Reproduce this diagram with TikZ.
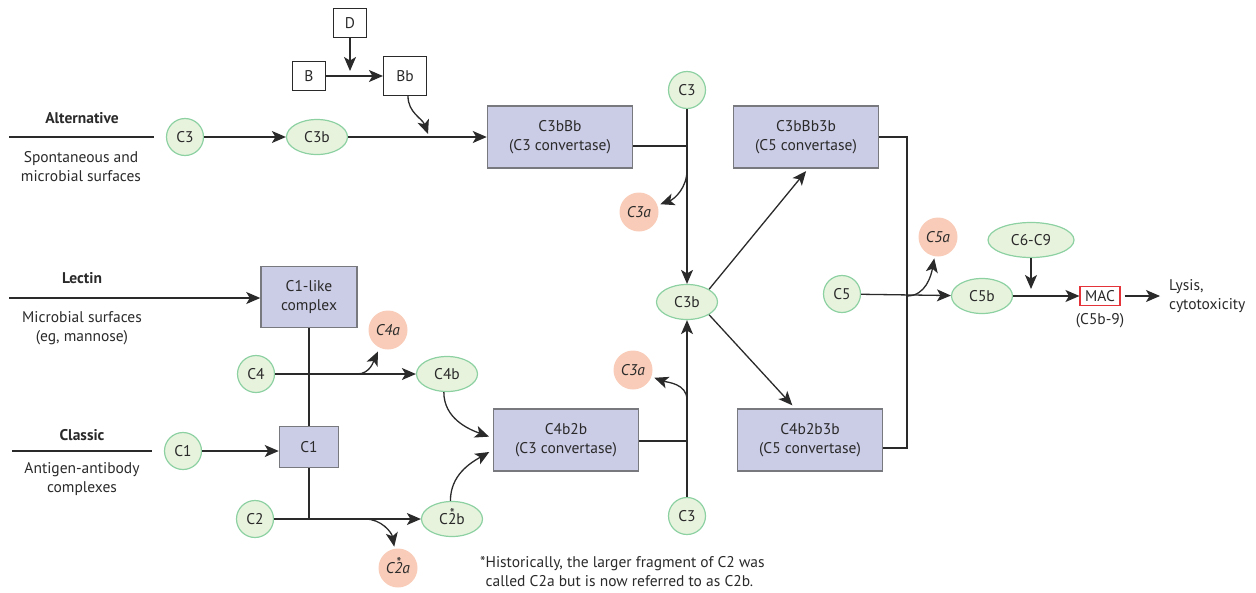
\documentclass[tikz,border=0pt]{standalone}
\usepackage{fontspec}
\setmainfont{PT Sans}
\usetikzlibrary{arrows.meta, positioning, shapes.geometric}

\definecolor{fragfill}{HTML}{E8F3DE}
\definecolor{fragdraw}{HTML}{8DD1A2}
\definecolor{cleavefill}{HTML}{F8CCB8}
\definecolor{cplxfill}{HTML}{CBCCE6}
\definecolor{cplxdraw}{HTML}{78787F}
\definecolor{ink}{HTML}{2A2A2A}
\definecolor{macred}{HTML}{E5333A}

\newcommand{\starred}[1]{\ooalign{#1\cr\hidewidth\raisebox{5.5pt}{\fontsize{14}{14}\selectfont*}\hidewidth\cr}}

\tikzset{
  comp/.style={circle, draw=fragdraw, fill=fragfill, line width=1.2pt, minimum size=37pt, inner sep=0pt},
  frag/.style={ellipse, draw=fragdraw, fill=fragfill, line width=1.2pt, minimum width=61pt, minimum height=35pt, inner sep=0pt},
  cleaved/.style={circle, fill=cleavefill, minimum size=39pt, inner sep=0pt, font=\fontsize{15.5}{19}\selectfont\itshape},
  cplx/.style={rectangle, draw=cplxdraw, fill=cplxfill, line width=1.5pt, align=center, inner sep=0pt},
  convert/.style={cplx, minimum width=145pt, minimum height=62pt},
  factor/.style={rectangle, draw=ink, fill=white, line width=1.1pt, inner sep=0pt},
  route/.style={font=\fontsize{15.5}{19}\selectfont\bfseries},
  note/.style={align=center, inner sep=0pt},
  link/.style={draw=ink, line width=1.3pt},
  arr/.style={link, -{Stealth[length=14pt,width=12pt,inset=3.5pt]}},
}

\begin{document}
\begin{tikzpicture}[x=1pt, y=-1pt, every node/.style={font=\fontsize{15.5}{19}\selectfont, text=ink}]
\useasboundingbox (0,0) rectangle (1256,592);

\node[route] (altname) at (82,118) {Alternative};
\node[note] (altsrc) at (81,167) {Spontaneous and\\microbial surfaces};
\node[route] (lecname) at (82,278) {Lectin};
\node[note] (lecsrc) at (82,328) {Microbial surfaces\\(eg, mannose)};
\node[route] (clsname) at (82,435) {Classic};
\node[note] (clssrc) at (82,479) {Antigen-antibody\\complexes};
\coordinate (alt0) at (9,137);  \coordinate (alt1) at (154,137);
\coordinate (lec0) at (9,298);
\coordinate (cls0) at (12,451); \coordinate (cls1) at (152,451);
\draw[link] (alt0) -- (alt1);
\draw[link] (cls0) -- (cls1);

\node[comp] (c3alt) at (185,137) {C3};
\node[frag] (c3balt) at (317,137) {C3b};
\node[factor, minimum width=33pt, minimum height=29pt] (dfac) at (350,23) {D};
\node[factor, minimum width=33pt, minimum height=29pt] (bfac) at (309,76) {B};
\node[factor, minimum width=43pt, minimum height=39pt] (bbfac) at (405,76) {Bb};
\node[convert] (c3bbb) at (560,137) {C3bBb\\(C3 convertase)};
\node[convert] (c3bbb3b) at (806,137) {C3bBb3b\\(C5 convertase)};
\node[comp] (c3top) at (687,90) {C3};
\node[cleaved] (c3aT) at (639,212) {C3a};
\node[frag] (c3mid) at (687,302) {C3b};
\node[cleaved] (c3aB) at (633,370) {C3a};
\node[comp] (c3bot) at (687,516) {C3};
\node[convert] (c4b2b) at (566,440) {C4b2b\\(C3 convertase)};
\node[convert] (c4b2b3b) at (810,440) {C4b2b3b\\(C5 convertase)};

\node[cplx, minimum width=96pt, minimum height=61pt] (c1like) at (309,297) {C1-like\\complex};
\node[cleaved] (c4a) at (388,330) {C4a};
\node[comp] (c4) at (256,374) {C4};
\node[frag] (c4b) at (447,374) {C4b};
\node[comp] (c1) at (183,451) {C1};
\node[cplx, minimum width=59pt, minimum height=41pt] (c1box) at (309,447) {C1};
\node[comp] (c2) at (255,519) {C2};
\node[frag] (c2b) at (452,519) {C\starred{2}b};
\node[cleaved] (c2a) at (398,568) {C\starred{2}a};

\node[comp] (c5) at (842,294) {C5};
\node[cleaved] (c5a) at (938,237) {C5a};
\node[frag] (c5b) at (982,296) {C5b};
\node[frag, minimum width=86pt, minimum height=35pt] (c6c9) at (1031,240) {C6-C9};
\node[rectangle, draw=macred, line width=1.1pt, minimum width=40pt, minimum height=19pt, inner sep=0pt] (mac) at (1100,296) {MAC};
\node[below=7pt of mac, inner sep=0pt] (macsub) {(C5b-9)};
\node[align=left, anchor=west, inner sep=0pt] (lysis) at (1169,296) {Lysis,\\cytotoxicity};

\node[align=left, anchor=west, inner sep=0pt] (foot) at (480,572) {*Historically, the larger fragment of C2 was\\\phantom{*}called C2a but is now referred to as C2b.};

\coordinate (dB) at (350,71);
\coordinate (bbJ) at (428,134);
\coordinate (j3a) at (687,146);
\coordinate (j3b) at (687,170);
\coordinate (j3c) at (687,441);
\coordinate (j3d) at (687,400);
\coordinate (bus) at (907,448);
\coordinate (j5) at (907,296);
\coordinate (j6) at (1031,289);
\coordinate (j4) at (357,374);
\coordinate (j2) at (309,519);
\coordinate (j2a) at (365,519);

\draw[arr] (c3alt) -- (c3balt);
\draw[arr] (c3balt) -- (c3bbb);
\draw[arr] (bfac) -- (bbfac);
\draw[arr] (dfac) -- (dB);
\draw[arr] ([xshift=3pt]bbfac.south) to[out=-90, in=110] (bbJ);
\draw[link] (c3bbb.east |- j3a) -- (j3a);
\draw[arr] (c3top) -- (c3mid);
\draw[arr, shorten >=3pt] (j3b) to[out=-90, in=20] (c3aT);
\draw[arr, shorten >=3pt] (c3mid.30) -- ([xshift=2pt]c3bbb3b.south);
\draw[arr, shorten >=4pt] (c3mid.-30) -- ([xshift=-15pt]c4b2b3b.north);
\draw[arr] (c3bot) -- (c3mid);
\draw[arr, shorten >=3pt] (j3d) to[out=90, in=-20] (c3aB);
\draw[link] (c4b2b.east |- j3c) -- (j3c);
\draw[link] (c3bbb3b.east) -| (bus) |- ([yshift=-8pt]c4b2b3b.east);

\draw[arr] (lec0) -- (lec0 -| c1like.west);
\draw[link] (c1like) -- (c1box);
\draw[arr] (c4) -- (c4b);
\draw[arr, shorten >=4pt] (j4) to[out=0, in=-115] (c4a);
\draw[arr] (c1) -- (c1 -| c1box.west);
\draw[link] (c1box) -- (j2);
\draw[arr] (c2) -- (c2b);
\draw[arr, shorten >=2pt] (j2a) to[out=0, in=100] (c2a);
\draw[arr, shorten >=4pt] (c4b.-100) to[out=-90, in=160] ([yshift=2pt]c4b2b.west);
\draw[arr, shorten >=4pt] (c2b.95) to[out=90, in=210] ([yshift=-10pt]c4b2b.west);

\draw[arr] (c5) -- (c5b);
\draw[arr, shorten >=2pt] (j5) to[out=0, in=-100] (c5a);
\draw[arr] (c6c9) -- (j6);
\draw[arr] (c5b) -- (mac);
\draw[arr, shorten <=4pt, shorten >=9pt] (mac) -- (lysis.west |- mac);
\end{tikzpicture}
\end{document}
